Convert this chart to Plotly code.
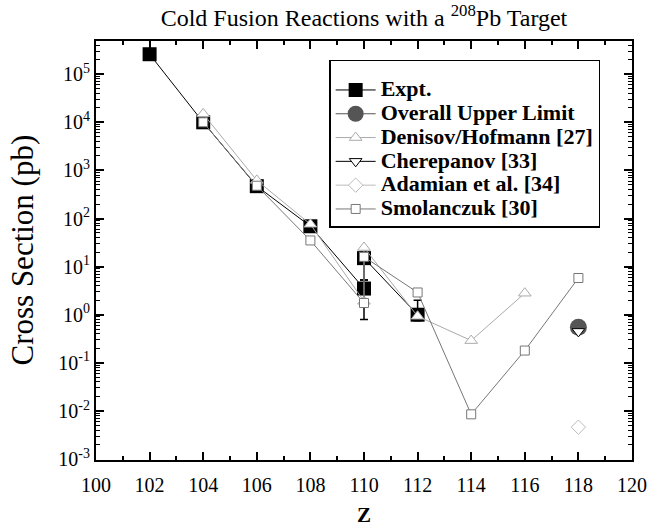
import plotly.graph_objects as go

# ---- data ----
expt_z = [102, 104, 106, 108, 110, 110, 112]
expt_xs = [2.6e5, 1.0e4, 470, 69, 3.5, 15, 1.0]
expt_err_plus = [0, 0, 0, 0, 1.8, 5, 1.0]
expt_err_minus = [0, 0, 0, 0, 2.7, 9.7, 0.25]

upper_z = [118]
upper_xs = [0.55]

denisov_z = [104, 106, 108, 110, 110, 112, 114, 116]
denisov_xs = [1.5e4, 620, 76, 1.9, 25, 0.93, 0.29, 2.8]

cherepanov_z = [118]
cherepanov_xs = [0.45]

adamian_z = [118]
adamian_xs = [0.0046]

smol_z = [104, 106, 108, 110, 110, 112, 114, 116, 118]
smol_xs = [1.0e4, 480, 35, 1.75, 16, 2.9, 0.0085, 0.18, 5.8]

x_ticks = list(range(100, 121, 2))
y_exps = list(range(-3, 6))

FONT = "Liberation Serif"


def lname(s):
    return '<span style="font-size:22px"><b>%s</b></span>' % s


fig = go.Figure()

fig.add_trace(go.Scatter(
    x=expt_z, y=expt_xs, mode="lines+markers", name=lname("Expt."),
    line=dict(color="black", width=1),
    marker=dict(symbol="square", size=14, color="black"),
    error_y=dict(type="data", symmetric=False, array=expt_err_plus,
                 arrayminus=expt_err_minus, color="black", thickness=1.5, width=4),
))
fig.add_trace(go.Scatter(
    x=upper_z, y=upper_xs, mode="lines+markers", name=lname("Overall Upper Limit"),
    line=dict(color="#555555", width=1),
    marker=dict(symbol="circle", size=17, color="#555555"),
))
fig.add_trace(go.Scatter(
    x=denisov_z, y=denisov_xs, mode="lines+markers", name=lname("Denisov/Hofmann [27]"),
    line=dict(color="#aaaaaa", width=1),
    marker=dict(symbol="triangle-up", size=11, color="white",
                line=dict(color="#aaaaaa", width=1)),
))
fig.add_trace(go.Scatter(
    x=cherepanov_z, y=cherepanov_xs, mode="lines+markers", name=lname("Cherepanov [33]"),
    line=dict(color="black", width=1),
    marker=dict(symbol="triangle-down", size=11, color="white",
                line=dict(color="black", width=1)),
))
fig.add_trace(go.Scatter(
    x=adamian_z, y=adamian_xs, mode="lines+markers", name=lname("Adamian et al. [34]"),
    line=dict(color="#bbbbbb", width=1),
    marker=dict(symbol="diamond", size=11, color="white",
                line=dict(color="#bbbbbb", width=1)),
))
fig.add_trace(go.Scatter(
    x=smol_z, y=smol_xs, mode="lines+markers", name=lname("Smolanczuk [30]"),
    line=dict(color="#777777", width=1),
    marker=dict(symbol="square", size=9, color="white",
                line=dict(color="#777777", width=1)),
))

minor_vals = [m * 10 ** e for e in range(-4, 6) for m in range(2, 10)]

fig.update_layout(
    width=648, height=527,
    margin=dict(l=96, r=16, t=41, b=67, autoexpand=False),
    paper_bgcolor="white", plot_bgcolor="white",
    font=dict(family=FONT, color="black", size=20),
    title=dict(text="Cold Fusion Reactions with a <sup>208</sup>Pb Target",
               x=0.5, xref="paper", xanchor="center", y=1 - 18 / 527, yanchor="middle",
               font=dict(family=FONT, size=24)),
    showlegend=True,
    legend=dict(x=0.435, y=0.955, xanchor="left", yanchor="top",
                bgcolor="white", bordercolor="black", borderwidth=1.5,
                font=dict(family=FONT, size=16, color="black"),
                title=dict(text=" ", font=dict(size=9)),
                itemwidth=40),
    annotations=[dict(text="Cross Section (pb)", textangle=-90,
                      xref="paper", yref="paper", x=(22 - 96) / 536, y=0.5,
                      xanchor="center", yanchor="middle", showarrow=False,
                      font=dict(family=FONT, size=31, color="black"))],
)

fig.update_xaxes(
    range=[100, 120], tickmode="array", tickvals=x_ticks, automargin=False,
    ticks="inside", ticklen=8, tickwidth=1.5, tickcolor="black",
    showline=True, linecolor="black", linewidth=2, mirror="ticks",
    showgrid=False, zeroline=False,
    tickfont=dict(family=FONT, size=20), ticklabelstandoff=6,
    minor=dict(tickmode="array", tickvals=list(range(101, 120, 2)),
               ticks="inside", ticklen=4, tickwidth=1.5, tickcolor="black", showgrid=False),
    title=dict(text="<b>Z</b>", font=dict(family=FONT, size=21), standoff=14),
)
fig.update_yaxes(
    type="log", range=[-3.02, 5.69], tickmode="array", automargin=False,
    tickvals=[10 ** e for e in y_exps],
    ticktext=["10<sup>%d</sup>" % e for e in y_exps],
    ticks="inside", ticklen=8, tickwidth=1.5, tickcolor="black",
    showline=True, linecolor="black", linewidth=2, mirror="ticks",
    showgrid=False, zeroline=False,
    tickfont=dict(family=FONT, size=20),
    minor=dict(tickmode="array", tickvals=minor_vals,
               ticks="inside", ticklen=4, tickwidth=1, tickcolor="black", showgrid=False),
)

fig.write_html("out.html", config={"displayModeBar": False},
               post_script="document.body.style.margin='0';")
